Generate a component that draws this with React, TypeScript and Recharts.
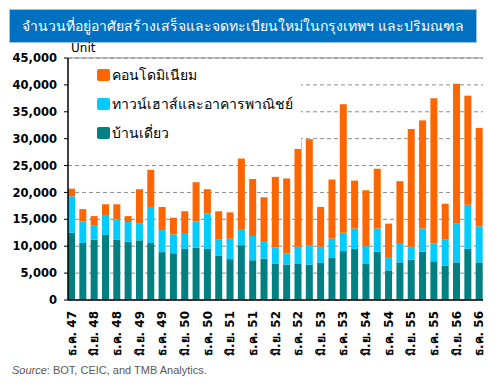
import React from 'react';
import { BarChart, Bar, XAxis, YAxis, CartesianGrid, ReferenceLine, Legend } from 'recharts';

const categories = [
  'ธ.ค. 47', 'มี.ค. 48', 'มิ.ย. 48', 'ก.ย. 48', 'ธ.ค. 48', 'มี.ค. 49', 'มิ.ย. 49', 'ก.ย. 49', 'ธ.ค. 49',
  'มี.ค. 50', 'มิ.ย. 50', 'ก.ย. 50', 'ธ.ค. 50', 'มี.ค. 51', 'มิ.ย. 51', 'ก.ย. 51', 'ธ.ค. 51',
  'มี.ค. 52', 'มิ.ย. 52', 'ก.ย. 52', 'ธ.ค. 52', 'มี.ค. 53', 'มิ.ย. 53', 'ก.ย. 53', 'ธ.ค. 53',
  'มี.ค. 54', 'มิ.ย. 54', 'ก.ย. 54', 'ธ.ค. 54', 'มี.ค. 55', 'มิ.ย. 55', 'ก.ย. 55', 'ธ.ค. 55',
  'มี.ค. 56', 'มิ.ย. 56', 'ก.ย. 56', 'ธ.ค. 56',
];

const singleHouse = [
  12500, 10600, 11200, 12100, 11200, 10800, 11100, 10600, 8900,
  8700, 9500, 9700, 9500, 8200, 7600, 10200, 7400,
  7700, 6800, 6600, 6700, 6600, 6900, 7800, 9100,
  9500, 6700, 9000, 5500, 7000, 7500, 9000, 7200,
  6400, 7000, 9500, 7000,
];

const townhouse = [
  6800, 4000, 2600, 3700, 3800, 3700, 3200, 6700, 4100,
  3500, 2800, 4900, 6600, 3000, 3800, 3000, 4500,
  3100, 3000, 2100, 3200, 3600, 3000, 3600, 3400,
  3800, 3300, 4300, 2500, 3600, 2400, 4300, 3300,
  4800, 7300, 8200, 6700,
];

const condo = [
  1400, 2300, 1800, 2000, 2800, 1100, 6300, 6900, 4300,
  3100, 4200, 7300, 4500, 5300, 4900, 13100, 10600,
  8300, 13100, 13900, 19800, 19700, 7400, 11000, 23900,
  8900, 10400, 11100, 6200, 11500, 21900, 20100, 27000,
  6700, 25900, 20300, 18300,
];

const yTicks = [0, 5000, 10000, 15000, 20000, 25000, 30000, 35000, 40000, 45000];

const seriesNames = {
  condo: 'คอนโดมิเนียม',
  townhouse: 'ทาวน์เฮาส์และอาคารพาณิชย์',
  single: 'บ้านเดี่ยว',
};

const colors = { condo: '#FF6600', townhouse: '#00CCFF', single: '#008080' };

const data = categories.map((c, i) => ({
  cat: c,
  single: singleHouse[i],
  townhouse: townhouse[i],
  condo: condo[i],
}));

const XTick = (props: any) => {
  const { x, y, payload } = props;
  return (
    <text
      x={0}
      y={0}
      transform={`translate(${x + 4},${y + 3}) rotate(-90)`}
      textAnchor="end"
      fontSize={12}
      fontWeight="bold"
      fill="#000"
      fontFamily="Tahoma, 'DejaVu Sans', sans-serif"
    >
      {payload.value}
    </text>
  );
};

const LegendContent = () => {
  const items = [
    { key: 'condo', label: seriesNames.condo, color: colors.condo },
    { key: 'townhouse', label: seriesNames.townhouse, color: colors.townhouse },
    { key: 'single', label: seriesNames.single, color: colors.single },
  ];
  return (
    <div style={{ background: '#fff', width: '100%', height: '100%', position: 'relative' }}>
      {items.map((it, i) => (
        <div
          key={it.key}
          style={{
            position: 'absolute',
            left: 28,
            top: 8 + i * 29,
            height: 16,
            display: 'flex',
            alignItems: 'center',
            whiteSpace: 'nowrap',
          }}
        >
          <span
            style={{
              display: 'inline-block',
              width: 13,
              height: 12,
              borderRadius: 2,
              background: it.color,
              marginRight: 2,
            }}
          />
          <span style={{ fontSize: 14, color: '#000', fontFamily: "Tahoma, 'DejaVu Sans', sans-serif" }}>
            {it.label}
          </span>
        </div>
      ))}
    </div>
  );
};

export default function App() {
  return (
    <div style={{ position: 'relative', width: 502, height: 387, margin: -8, background: '#fff', overflow: 'hidden' }}>
      <div
        style={{
          position: 'absolute',
          left: 9,
          top: 9,
          width: 466,
          height: 32,
          background: '#0070C0',
          border: '1px solid #9DC3E6',
          color: '#fff',
          fontSize: 14,
          fontFamily: "Tahoma, 'DejaVu Sans', sans-serif",
          display: 'flex',
          alignItems: 'center',
          justifyContent: 'center',
          whiteSpace: 'nowrap',
        }}
      >
        จำนวนที่อยู่อาศัยสร้างเสร็จและจดทะเบียนใหม่ในกรุงเทพฯ และปริมณฑล
      </div>
      <div
        style={{
          position: 'absolute',
          left: 71,
          top: 41,
          fontSize: 12,
          fontFamily: "Tahoma, 'DejaVu Sans', sans-serif",
          color: '#000',
        }}
      >
        Unit
      </div>
      <div style={{ position: 'absolute', left: 0, top: 0 }}>
        <BarChart
          width={502}
          height={387}
          data={data}
          margin={{ top: 58, right: 19, bottom: 27, left: 0 }}
          barSize={7}
        >
          <CartesianGrid vertical={false} stroke="#8c8c8c" strokeDasharray="4 3" />
          <XAxis
            dataKey="cat"
            interval={1}
            tick={<XTick />}
            tickLine={false}
            axisLine={{ stroke: '#000', strokeWidth: 1.5 }}
            height={60}
            padding={{ left: -2, right: -2 }}
          />
          <YAxis
            domain={[0, 45000]}
            ticks={yTicks}
            width={68}
            tickSize={4}
            tickMargin={7}
            tickLine={{ stroke: '#000' }}
            axisLine={{ stroke: '#000', strokeWidth: 1.5 }}
            tickFormatter={(v: number) => v.toLocaleString('en-US')}
            tick={{ fontSize: 11.5, fontWeight: 'bold', fill: '#000', fontFamily: "'DejaVu Sans', sans-serif" }}
            interval={0}
          />
          <YAxis
            yAxisId="r"
            orientation="right"
            domain={[0, 45000]}
            tick={false}
            tickLine={false}
            width={0}
            axisLine={{ stroke: '#8c8c8c' }}
          />
          <ReferenceLine y={45000} stroke="#8c8c8c" strokeDasharray="0" />
          <Legend
            layout="vertical"
            align="center"
            verticalAlign="middle"
            content={<LegendContent />}
            wrapperStyle={{ position: 'absolute', left: 69, top: 59, width: 232, height: 90 }}
          />
          <Bar dataKey="single" stackId="a" fill={colors.single} isAnimationActive={false} name={seriesNames.single} />
          <Bar dataKey="townhouse" stackId="a" fill={colors.townhouse} isAnimationActive={false} name={seriesNames.townhouse} />
          <Bar dataKey="condo" stackId="a" fill={colors.condo} isAnimationActive={false} name={seriesNames.condo} />
        </BarChart>
      </div>
      <div
        style={{
          position: 'absolute',
          left: 12,
          top: 364,
          fontSize: 11,
          color: '#595959',
          fontFamily: "'Liberation Sans', Arial, sans-serif",
          whiteSpace: 'nowrap',
        }}
      >
        <i>Source</i>: BOT, CEIC, and TMB Analytics.
      </div>
    </div>
  );
}
